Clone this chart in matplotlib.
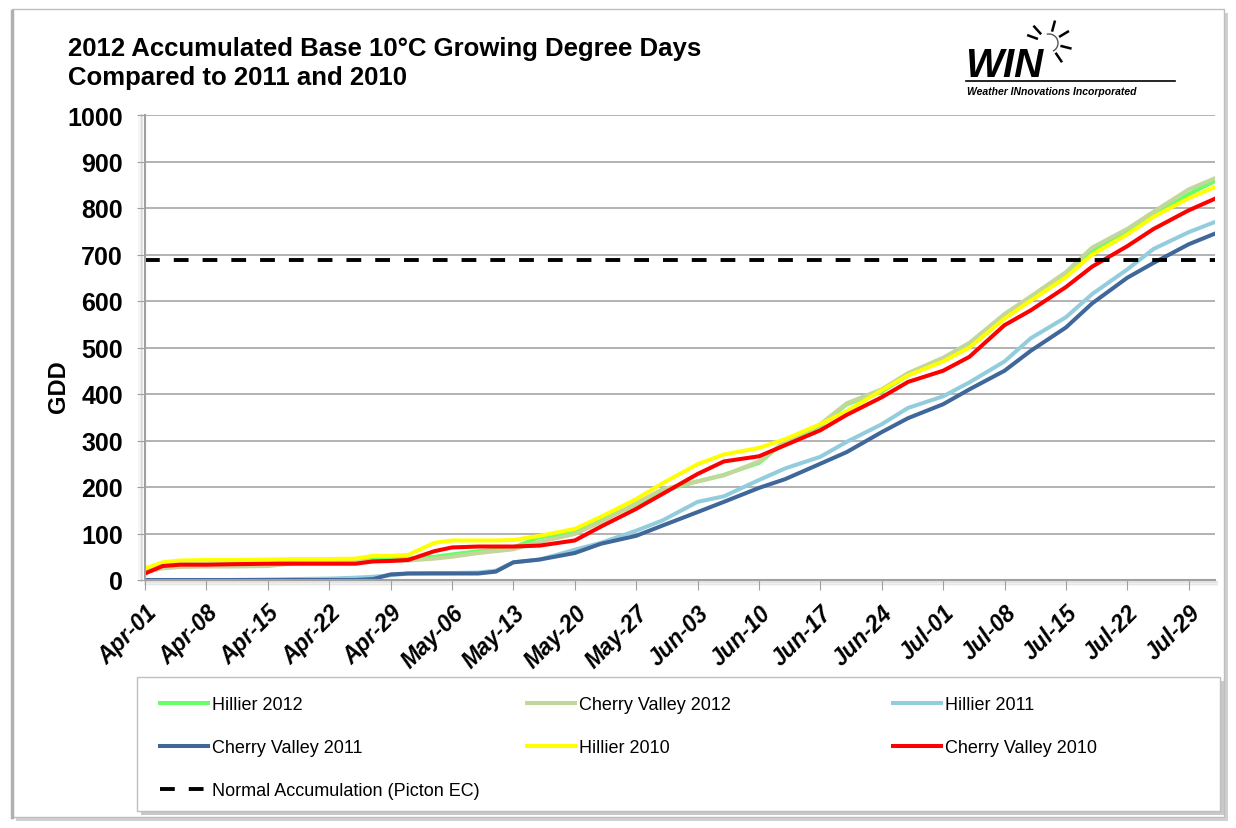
import math
import matplotlib.pyplot as plt
from matplotlib.patches import Rectangle
from matplotlib.lines import Line2D
from matplotlib.transforms import ScaledTranslation

plt.rcParams['font.family'] = ['Liberation Sans', 'DejaVu Sans']

# days after Apr-01 at which the curves were read
days = [0, 2, 4, 7, 10, 14, 17, 21, 24, 26, 28, 30, 33, 35, 38, 40, 42, 45, 49, 52,
        56, 59, 63, 66, 70, 73, 77, 80, 84, 87, 91, 94, 98, 101, 105, 108, 112, 115, 119, 122]

hillier_2012 = [20, 30, 33, 33, 33, 34, 42, 43, 44, 44, 45, 46, 50, 55, 62, 65, 70, 92, 102, 128,
                163, 192, 212, 226, 252, 298, 332, 378, 405, 440, 475, 505, 565, 603, 655, 707, 748, 783, 830, 858]
cherry_valley_2012 = [18, 25, 28, 29, 29, 30, 36, 38, 39, 40, 41, 42, 46, 50, 58, 62, 66, 82, 99, 125,
                      165, 195, 212, 225, 255, 298, 335, 380, 410, 445, 478, 510, 572, 610, 662, 715, 755, 792, 840, 864]
hillier_2011 = [0, 0, 0, 0, 0, 1, 2, 3, 5, 7, 10, 14, 15, 15, 16, 20, 38, 44, 65, 80,
                106, 128, 168, 180, 215, 240, 265, 297, 335, 370, 395, 425, 470, 520, 565, 615, 668, 712, 748, 770]
cherry_valley_2011 = [0, 0, 0, 0, 0, 0, 0, 0, 0, 2, 12, 14, 14, 14, 14, 18, 38, 44, 58, 78,
                      95, 117, 146, 168, 198, 217, 250, 275, 318, 348, 378, 410, 450, 493, 543, 595, 650, 682, 722, 745]
hillier_2010 = [25, 38, 42, 43, 43, 44, 45, 45, 46, 52, 52, 54, 80, 85, 85, 85, 86, 95, 110, 136,
                174, 208, 249, 270, 284, 303, 335, 363, 408, 440, 470, 500, 562, 601, 651, 700, 743, 781, 821, 845]
cherry_valley_2010 = [14, 30, 33, 33, 34, 35, 35, 35, 35, 40, 41, 43, 62, 70, 72, 72, 72, 74, 85, 115,
                      153, 185, 228, 255, 266, 290, 322, 355, 393, 426, 450, 480, 548, 580, 630, 674, 718, 755, 795, 820]
normal_gdd = 688

tick_days = [0, 7, 14, 21, 28, 35, 42, 49, 56, 63, 70, 77, 84, 91, 98, 105, 112, 119]
tick_labels = ['Apr-01', 'Apr-08', 'Apr-15', 'Apr-22', 'Apr-29', 'May-06', 'May-13', 'May-20', 'May-27',
               'Jun-03', 'Jun-10', 'Jun-17', 'Jun-24', 'Jul-01', 'Jul-08', 'Jul-15', 'Jul-22', 'Jul-29']

W, H = 1236, 829


def fx(x):
    return x / W


def fy(y):
    return 1 - y / H


fig = plt.figure(figsize=(W / 100, H / 100), dpi=100)
fig.patch.set_facecolor('white')

# outer frame with shadow
fig.patches.append(Rectangle((fx(16), fy(822)), fx(1228) - fx(16), fy(14) - fy(822),
                             transform=fig.transFigure, facecolor='#D0D0D0', edgecolor='none', zorder=-2))
fig.patches.append(Rectangle((fx(12), fy(818)), fx(1224) - fx(12), fy(10) - fy(818),
                             transform=fig.transFigure, facecolor='white', edgecolor='#BFBFBF', lw=1, zorder=-1))
fig.add_artist(Line2D([fx(12), fx(12)], [fy(12), fy(818)], transform=fig.transFigure,
                      color='#B0B0B0', lw=2.5, zorder=-0.5))

ax = fig.add_axes([fx(145), fy(581), fx(1215) - fx(145), fy(116) - fy(581)])
ax.set_zorder(2)

series = [
    ('Hillier 2012', hillier_2012, '#66FF66'),
    ('Cherry Valley 2012', cherry_valley_2012, '#C3D69B'),
    ('Hillier 2011', hillier_2011, '#93CDDD'),
    ('Cherry Valley 2011', cherry_valley_2011, '#3F679A'),
    ('Hillier 2010', hillier_2010, '#FFFF00'),
    ('Cherry Valley 2010', cherry_valley_2010, '#FF0000'),
]
lines = {}
for name, vals, color in series:
    lines[name], = ax.plot(days, vals, color=color, lw=2.9, label=name, solid_joinstyle='round')
lines['Normal'], = ax.plot(days, [normal_gdd] * len(days), color='black', lw=2.8,
                           ls=(0, (3.8, 3.6)), label='Normal Accumulation (Picton EC)')

ax.set_xlim(0, 122)
ax.set_ylim(0, 1000)
ax.set_yticks(range(0, 1001, 100))
ax.set_xticks(tick_days)
ax.set_xticklabels(tick_labels, rotation=45, ha='right', va='top', rotation_mode='anchor',
                   fontsize=16.5, fontweight='bold', fontstyle='italic')
shift = ScaledTranslation(6 / 100, 4 / 100, fig.dpi_scale_trans)
for lab in ax.get_xticklabels():
    lab.set_transform(lab.get_transform() + shift)
for lab in ax.get_yticklabels():
    lab.set_fontsize(18)
    lab.set_fontweight('bold')
ax.grid(axis='y', color='#A6A6A6', lw=1.2)
ax.set_axisbelow(True)
for s in ['top', 'right']:
    ax.spines[s].set_visible(False)
for s in ['left', 'bottom']:
    ax.spines[s].set_color('#A0A0A0')
    ax.spines[s].set_linewidth(1.5)
ax.tick_params(axis='y', direction='out', length=6, color='#A0A0A0', pad=10)
ax.tick_params(axis='x', direction='out', length=7, color='#A0A0A0', pad=8)

ax.set_ylabel('GDD', fontsize=17, fontweight='bold')
ax.yaxis.set_label_coords((70 - 145) / 1070, (581 - 387) / 465)

# plot area shadow
for i, a in enumerate([0.25, 0.15, 0.08]):
    fig.add_artist(Line2D([fx(142 - i * 1.5)] * 2, [fy(582), fy(116)], transform=fig.transFigure,
                          color='gray', alpha=a, lw=1.2))
    fig.add_artist(Line2D([fx(145), fx(1217)], [fy(583 + i * 1.5)] * 2, transform=fig.transFigure,
                          color='gray', alpha=a, lw=1.2))

# title
fig.text(fx(68), fy(56), '2012 Accumulated Base 10°C Growing Degree Days',
         fontsize=18.5, fontweight='bold', ha='left', va='baseline')
fig.text(fx(68), fy(85), 'Compared to 2011 and 2010',
         fontsize=18.5, fontweight='bold', ha='left', va='baseline')

# WIN logo
fig.text(fx(965), fy(77), 'WIN', fontsize=29, fontweight='heavy', fontstyle='italic', ha='left', va='baseline')
fig.add_artist(Line2D([fx(966), fx(1175)], [fy(82), fy(82)], transform=fig.transFigure, color='black', lw=1.2))
fig.text(fx(967), fy(95), 'Weather INnovations Incorporated', fontsize=7.5, fontweight='bold',
         fontstyle='italic', ha='left', va='baseline')
cx, cy = 1049, 44
for ang in [160, 132, 75, 31, -14, -56]:
    r = math.radians(ang)
    fig.add_artist(Line2D([fx(cx + 13 * math.cos(r)), fx(cx + 22 * math.cos(r))],
                          [fy(cy - 13 * math.sin(r)), fy(cy - 22 * math.sin(r))],
                          transform=fig.transFigure, color='black', lw=1.8))
th = [math.radians(a) for a in range(100, -65, -5)]
fig.add_artist(Line2D([fx(cx + 9 * math.cos(t)) for t in th], [fy(cy - 9 * math.sin(t)) for t in th],
                      transform=fig.transFigure, color='#555555', lw=1.0))

# legend box
fig.patches.append(Rectangle((fx(141), fy(816)), fx(1224) - fx(141), fy(682) - fy(816),
                             transform=fig.transFigure, facecolor='#C8C8C8', edgecolor='none', zorder=0.5))
fig.patches.append(Rectangle((fx(137), fy(812)), fx(1220) - fx(137), fy(678) - fy(812),
                             transform=fig.transFigure, facecolor='white', edgecolor='#BFBFBF', lw=1, zorder=0.6))

columns = [
    (160, ['Hillier 2012', 'Cherry Valley 2011', 'Normal']),
    (527, ['Cherry Valley 2012', 'Hillier 2010']),
    (893, ['Hillier 2011', 'Cherry Valley 2010']),
]
for x0, names in columns:
    leg = fig.legend(handles=[lines[n] for n in names], loc='upper left', bbox_to_anchor=(fx(x0), fy(697)),
                     frameon=False, borderpad=0, borderaxespad=0, fontsize=13,
                     handlelength=48 / 18, handletextpad=4 / 18, labelspacing=1.45)
    leg.set_zorder(3)

fig.savefig('out.png', dpi=100)
